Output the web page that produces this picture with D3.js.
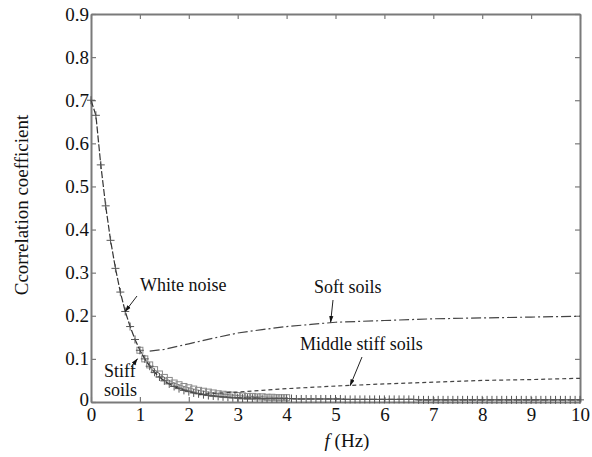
<!DOCTYPE html>
<html>
<head>
<meta charset="utf-8">
<script src="https://cdn.jsdelivr.net/npm/d3@7"></script>
<style>
  body { margin: 0; background: #fff; }
</style>
</head>
<body>
<div id="chart"></div>
<script>
// values, frequency step 0.1 Hz
var xTicks = [0, 1, 2, 3, 4, 5, 6, 7, 8, 9, 10];
var yTicks = [0, 0.1, 0.2, 0.3, 0.4, 0.5, 0.6, 0.7, 0.8, 0.9];

var whiteNoiseStart = 0;
var whiteNoise = [0.70, 0.665, 0.55, 0.455, 0.375, 0.31, 0.255, 0.21, 0.175, 0.145,
  0.12, 0.10, 0.083, 0.069, 0.058, 0.049, 0.042, 0.036, 0.031, 0.027,
  0.024, 0.021, 0.019, 0.017, 0.015, 0.014, 0.013, 0.012, 0.011, 0.010,
  0.010, 0.009, 0.009, 0.009, 0.009, 0.008, 0.008, 0.008, 0.008, 0.008,
  0.008, 0.008, 0.007, 0.007, 0.007, 0.007, 0.007, 0.007, 0.007, 0.007,
  0.007, 0.007, 0.006, 0.006, 0.006, 0.006, 0.006, 0.006, 0.006, 0.006,
  0.006, 0.006, 0.006, 0.006, 0.006, 0.006, 0.006, 0.005, 0.005, 0.005,
  0.005, 0.005, 0.005, 0.005, 0.005, 0.005, 0.005, 0.005, 0.005, 0.005,
  0.005, 0.005, 0.005, 0.005, 0.005, 0.005, 0.005, 0.005, 0.005, 0.005,
  0.005, 0.005, 0.005, 0.005, 0.005, 0.005, 0.005, 0.005, 0.005, 0.005,
  0.005];

var stiffStart = 1.0;
var stiffSoils = [0.12, 0.10, 0.086, 0.075, 0.065, 0.057, 0.05, 0.044, 0.04, 0.036,
  0.033, 0.03, 0.027, 0.025, 0.023, 0.021, 0.019, 0.018, 0.017, 0.016,
  0.015, 0.014, 0.013, 0.013, 0.012, 0.012, 0.011, 0.011, 0.010, 0.010, 0.010];

var softF = [1.2, 1.5, 2, 2.5, 3, 3.5, 4, 4.5, 5, 6, 7, 8, 9, 10];
var softSoils = [0.118, 0.122, 0.135, 0.148, 0.16, 0.168, 0.175, 0.18, 0.185, 0.189, 0.193, 0.195, 0.197, 0.199];

var middleF = [2.2, 2.5, 3, 3.5, 4, 5, 6, 7, 8, 9, 10];
var middleSoils = [0.017, 0.02, 0.023, 0.027, 0.031, 0.037, 0.042, 0.046, 0.05, 0.052, 0.055];

var serif = "Liberation Serif";

var margin = {top: 14, right: 12, bottom: 55, left: 91},
    width = 592 - margin.left - margin.right,
    height = 457 - margin.top - margin.bottom;

var svg = d3.select("#chart").append("svg")
    .attr("width", 592)
    .attr("height", 457)
  .append("g")
    .attr("transform", "translate(" + margin.left + "," + margin.top + ")");

var x = d3.scaleLinear().domain([0, 10]).range([0, width]);
var y = d3.scaleLinear().domain([0, 0.9]).range([height, 0]);

var axisColor = "#7a7a7a";

function styleAxis(g) {
  g.attr("font-family", serif);
  g.select(".domain").attr("stroke", axisColor).attr("stroke-width", 2);
  g.selectAll(".tick line").attr("stroke", axisColor).attr("stroke-width", 1.2);
  g.selectAll(".tick text").attr("font-family", serif).attr("font-size", 19).attr("fill", "#111");
}

// bottom / left with labels, top / right just ticks
svg.append("g")
    .attr("transform", "translate(0," + height + ")")
    .call(d3.axisBottom(x).tickValues(xTicks).tickSizeInner(-5).tickSizeOuter(0).tickPadding(6).tickFormat(d3.format("d")))
    .call(styleAxis);
svg.append("g")
    .call(d3.axisTop(x).tickValues(xTicks).tickSizeInner(-5).tickSizeOuter(0).tickFormat(""))
    .call(styleAxis);
var yAxis = svg.append("g")
    .call(d3.axisLeft(y).tickValues(yTicks).tickSizeInner(-5).tickSizeOuter(0).tickPadding(2).tickFormat(d => d === 0 ? "0" : d3.format(".1f")(d)))
    .call(styleAxis);
// the y "0" sits a touch higher so it clears the x "0"
yAxis.selectAll(".tick text").filter(d => d === 0).attr("dy", "0.2em");
svg.append("g")
    .attr("transform", "translate(" + width + ",0)")
    .call(d3.axisRight(y).tickValues(yTicks).tickSizeInner(-5).tickSizeOuter(0).tickFormat(""))
    .call(styleAxis);

var line = d3.line().x(d => x(d[0])).y(d => y(d[1]));

var wnData = whiteNoise.map((v, i) => [whiteNoiseStart + i * 0.1, v]);
var stData = stiffSoils.map((v, i) => [stiffStart + i * 0.1, v]);
var sfData = softF.map((f, i) => [f, softSoils[i]]);
var mdData = middleF.map((f, i) => [f, middleSoils[i]]);

// stiff soils: grey line with open squares
svg.append("path").datum(stData)
    .attr("d", line).attr("fill", "none")
    .attr("stroke", "#888").attr("stroke-width", 1);
svg.append("g").selectAll("rect")
    .data(stData).enter().append("rect")
    .attr("x", d => x(d[0]) - 3)
    .attr("y", d => y(d[1]) - 3)
    .attr("width", 6).attr("height", 6)
    .attr("fill", "none").attr("stroke", "#8a8a8a").attr("stroke-width", 1);

// white noise: dashed with + markers
svg.append("path").datum(wnData)
    .attr("d", line).attr("fill", "none")
    .attr("stroke", "#333").attr("stroke-width", 1.2)
    .attr("stroke-dasharray", "7,2");
var plus = svg.append("g").selectAll("g")
    .data(wnData).enter().append("g")
    .attr("transform", d => "translate(" + x(d[0]) + "," + y(d[1]) + ")");
plus.append("line").attr("x1", -4).attr("x2", 4).attr("y1", 0).attr("y2", 0)
    .attr("stroke", "#555").attr("stroke-width", 1);
plus.append("line").attr("x1", 0).attr("x2", 0).attr("y1", -4).attr("y2", 4)
    .attr("stroke", "#555").attr("stroke-width", 1);

// soft soils: dash-dot
svg.append("path").datum(sfData)
    .attr("d", line).attr("fill", "none")
    .attr("stroke", "#444").attr("stroke-width", 1.2)
    .attr("stroke-dasharray", "10,3,2,3");

// middle stiff soils: dashed
svg.append("path").datum(mdData)
    .attr("d", line).attr("fill", "none")
    .attr("stroke", "#444").attr("stroke-width", 1.2)
    .attr("stroke-dasharray", "4,3");

// annotations with arrows
svg.append("defs").append("marker")
    .attr("id", "arr")
    .attr("viewBox", "0 0 10 10")
    .attr("refX", 9).attr("refY", 5)
    .attr("markerWidth", 7).attr("markerHeight", 7)
    .attr("orient", "auto")
  .append("path").attr("d", "M0,2L10,5L0,8Z").attr("fill", "#111");

var notes = [
  {lines: ["White noise"], tx: 140, ty: 291, from: [137, 296], to: [0.7, 0.21]},
  {lines: ["Stiff", "soils"], tx: 104, ty: 377, from: [131, 367], to: [0.95, 0.1]},
  {lines: ["Soft soils"], tx: 314, ty: 293, from: [333, 300], to: [4.9, 0.185]},
  {lines: ["Middle stiff soils"], tx: 300, ty: 350, from: [362, 357], to: [5.3, 0.038]}
];

notes.forEach(function(n) {
  var t = svg.append("text")
      .attr("x", n.tx - margin.left)
      .attr("y", n.ty - margin.top)
      .attr("font-family", serif)
      .attr("font-size", 18)
      .attr("fill", "#111");
  n.lines.forEach(function(s, i) {
    t.append("tspan").attr("x", n.tx - margin.left).attr("dy", i === 0 ? 0 : 19).text(s);
  });
  svg.append("line")
      .attr("x1", n.from[0] - margin.left).attr("y1", n.from[1] - margin.top)
      .attr("x2", x(n.to[0])).attr("y2", y(n.to[1]))
      .attr("stroke", "#222").attr("stroke-width", 1)
      .attr("marker-end", "url(#arr)");
});

// axis titles
svg.append("text")
    .attr("transform", "rotate(-90)")
    .attr("x", -(205 - margin.top))
    .attr("y", 28 - margin.left)
    .attr("text-anchor", "middle")
    .attr("font-family", serif)
    .attr("font-size", 19)
    .attr("fill", "#111")
    .text("Ccorrelation coefficient");

var xl = svg.append("text")
    .attr("x", 347 - margin.left)
    .attr("y", 447 - margin.top)
    .attr("text-anchor", "middle")
    .attr("font-family", serif)
    .attr("font-size", 19)
    .attr("fill", "#111");
xl.append("tspan").attr("font-style", "italic").text("f");
xl.append("tspan").text(" (Hz)");
</script>
</body>
</html>
